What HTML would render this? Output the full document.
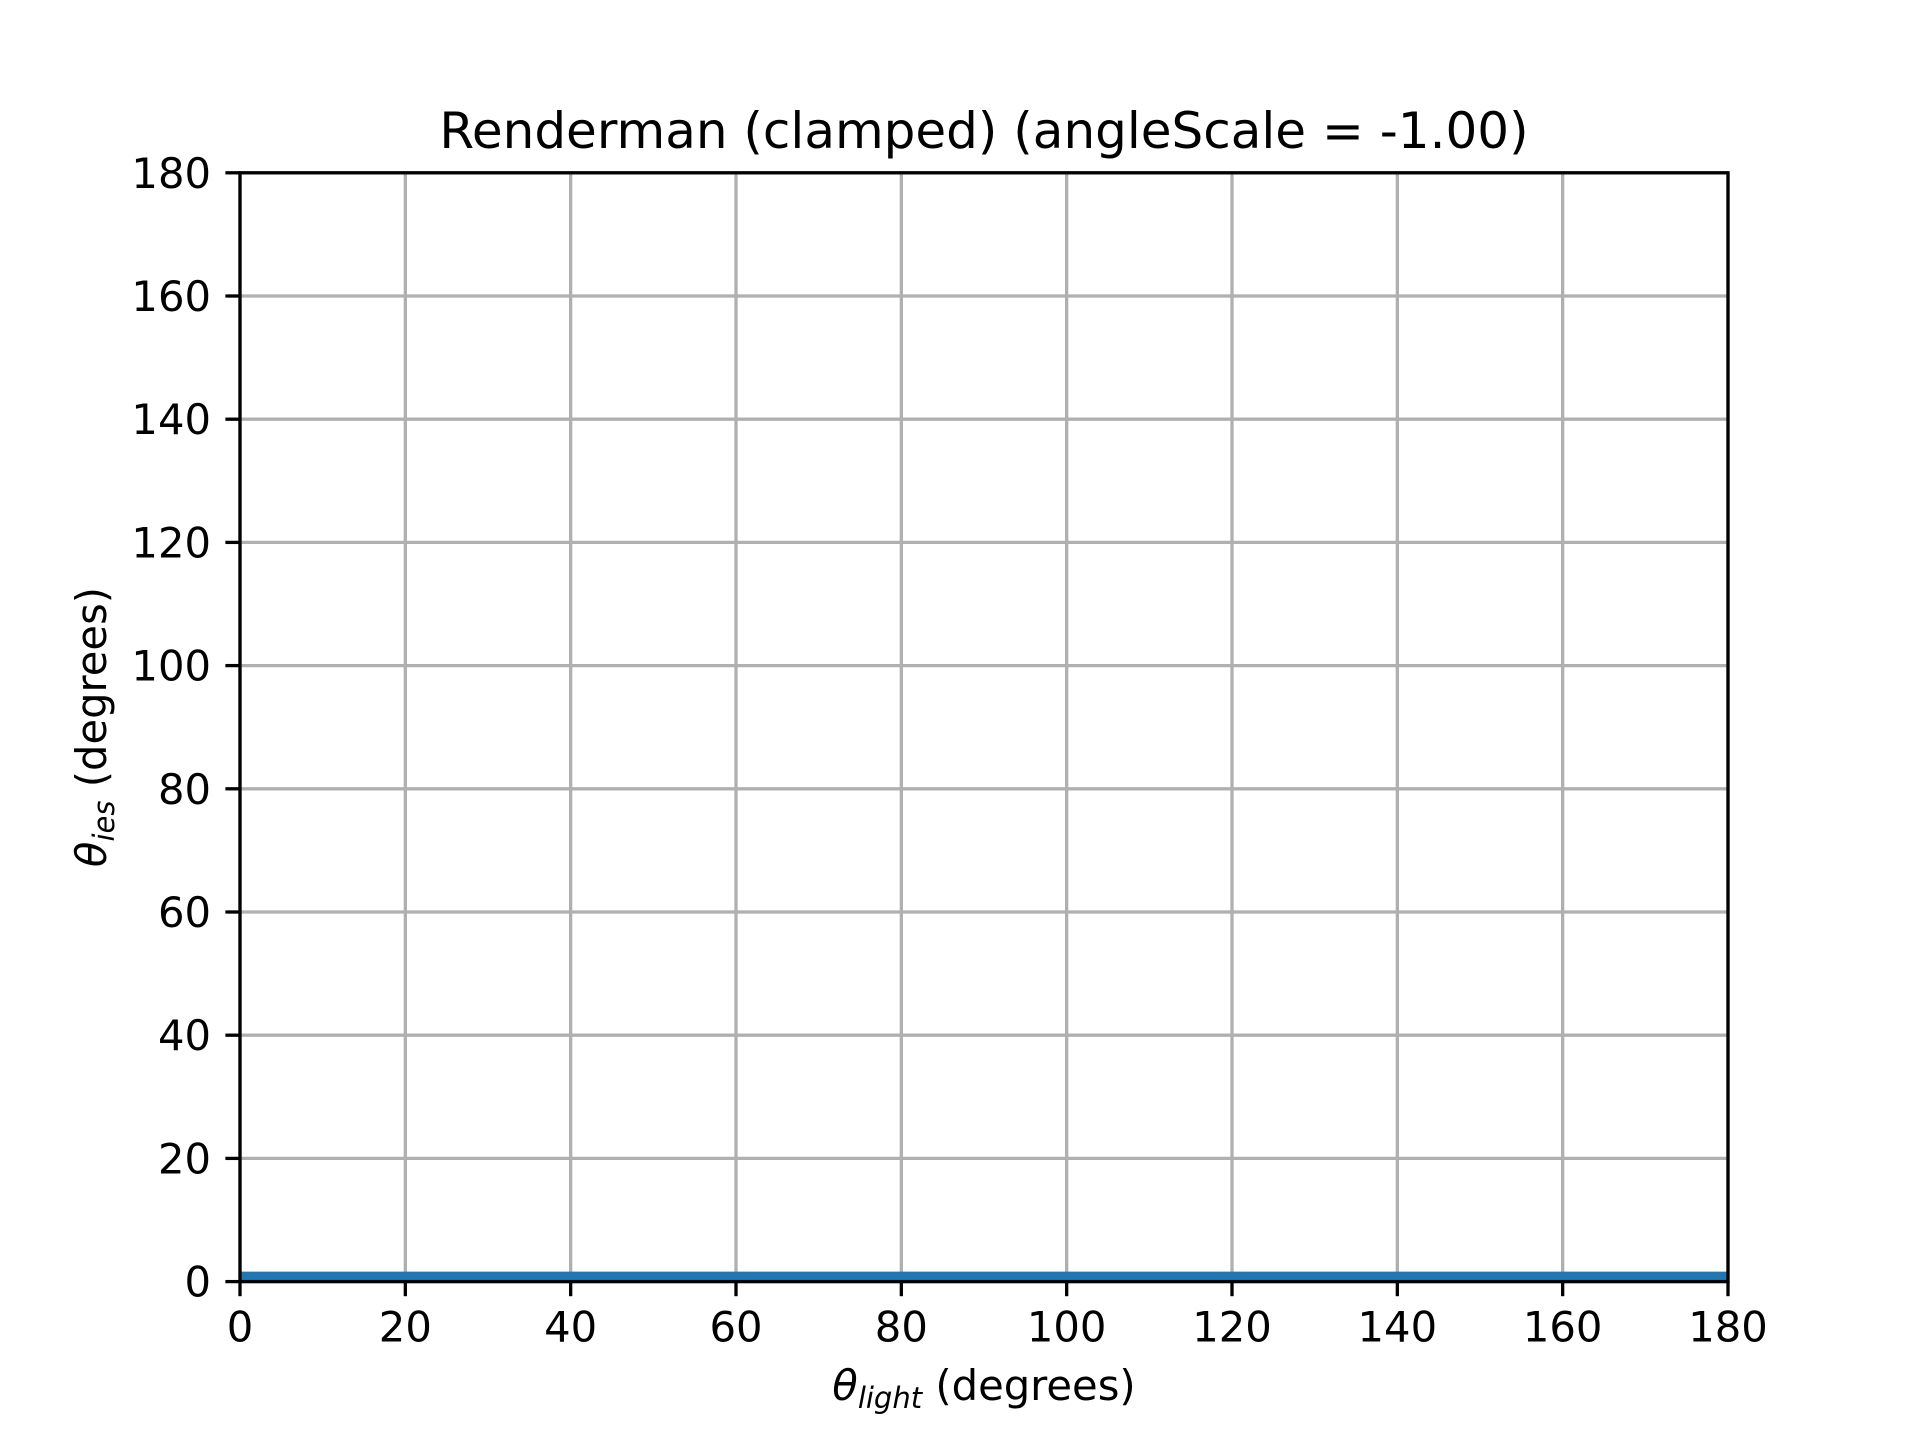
<!DOCTYPE html>
<html><head><meta charset="utf-8"><style>
html,body{margin:0;padding:0;background:#fff;}
svg{display:block;font-family:"DejaVu Sans","Liberation Sans",sans-serif;}
</style></head><body>
<svg id="chart" width="1920" height="1440" viewBox="0 0 1920 1440" xmlns="http://www.w3.org/2000/svg">
<rect width="1920" height="1440" fill="#fff"/>
<g id="grid"></g>
<g id="series"></g>
<rect x="240" y="172.8" width="1488" height="1108.8" fill="none" stroke="#000" stroke-width="3.3"/>
<g id="ticks"></g>
<text x="984" y="148" font-size="50" text-anchor="middle">Renderman (clamped) (angleScale = -1.00)</text>
<text x="984" y="1400" font-size="41.7" text-anchor="middle"><tspan font-style="italic">θ</tspan><tspan font-style="italic" font-size="29" dy="8">light</tspan><tspan dy="-8"> (degrees)</tspan></text>
<text transform="translate(106,727) rotate(-90)" font-size="41.7" text-anchor="middle"><tspan font-style="italic">θ</tspan><tspan font-style="italic" font-size="29" dy="8">ies</tspan><tspan dy="-8"> (degrees)</tspan></text>
</svg>
<script>
const xTicks = [0,20,40,60,80,100,120,140,160,180];
const yTicks = [0,20,40,60,80,100,120,140,160,180];
const xValues = [0,180];
const yValues = [0.8,0.8];
const NS="http://www.w3.org/2000/svg";
const L=240,R=1728,T=172.8,B=1281.6;
function sx(v){return L+(v-0)/(180-0)*(R-L);}
function sy(v){return B-(v-0)/(180-0)*(B-T);}
function mk(tag,attrs,parent){const e=document.createElementNS(NS,tag);for(const k in attrs)e.setAttribute(k,attrs[k]);parent.appendChild(e);return e;}
const grid=document.getElementById('grid'),ticks=document.getElementById('ticks'),series=document.getElementById('series');
xTicks.forEach(v=>{
  const g=mk('line',{x1:sx(v),x2:sx(v),y1:T,y2:B,stroke:'#b0b0b0','stroke-width':3.3},grid);
  
  
  const t=mk('line',{x1:sx(v),x2:sx(v),y1:B,y2:B+14.6,stroke:'#000','stroke-width':3.3},ticks);
  
  
  const l=mk('text',{x:sx(v),y:B+60,'font-size':41.7,'text-anchor':'middle'},ticks);
  l.textContent=v;
  
  
});
yTicks.forEach(v=>{
  const g=mk('line',{x1:L,x2:R,y1:sy(v),y2:sy(v),stroke:'#b0b0b0','stroke-width':3.3},grid);
  
  
  const t=mk('line',{x1:L-14.6,x2:L,y1:sy(v),y2:sy(v),stroke:'#000','stroke-width':3.3},ticks);
  
  
  const l=mk('text',{x:L-29,y:sy(v)+15,'font-size':41.7,'text-anchor':'end'},ticks);
  l.textContent=v;
  
  
});
const pts=xValues.map((x,i)=>sx(x)+','+sy(yValues[i])).join(' ');
const pl=mk('polyline',{points:pts,fill:'none',stroke:'#1f77b4','stroke-width':10},series);


</script>
</body></html>
